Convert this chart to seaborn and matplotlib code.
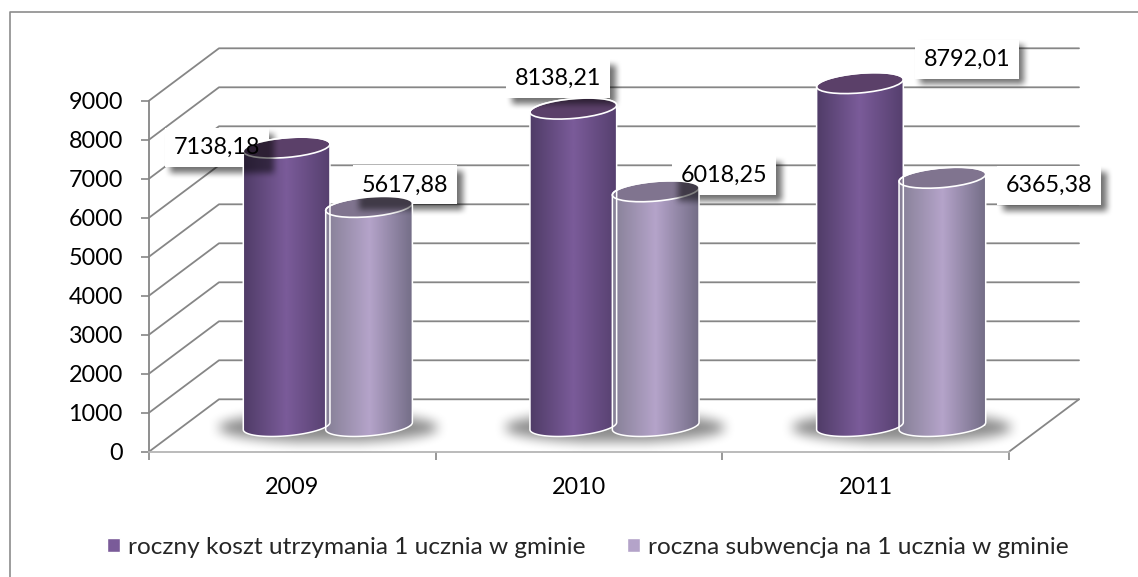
import numpy as np
import pandas as pd
import seaborn as sns
import matplotlib.pyplot as plt
from matplotlib.lines import Line2D
from matplotlib.patches import Ellipse, Polygon, Rectangle

# dane z wykresu
lata = ['2009', '2010', '2011']
koszt = [7138.18, 8138.21, 8792.01]
subwencja = [5617.88, 6018.25, 6365.38]
seria_koszt = 'roczny koszt utrzymania 1 ucznia w gminie'
seria_subwencja = 'roczna subwencja na 1 ucznia w gminie'
os_y = [0, 1000, 2000, 3000, 4000, 5000, 6000, 7000, 8000, 9000]

# przesuniecie etykiet wzgledem wierzcholka slupka (piksele)
przes_koszt = [(-70, 0), (-15, -30), (107, -24)]
przes_subwencja = [(36, -22), (68.5, -15.5), (107, 8)]

W, H = 1138, 577
szary = '#868686'
kolor_koszt = ['#4f3b66', '#7a5b99', '#553f6e', '#5b4069']
kolor_subw = ['#857f95', '#b4a3c9', '#726c85', '#80748f']
rozmiar = 16.8

df = pd.DataFrame({
    'rok': lata * 2,
    'wartosc': koszt + subwencja,
    'seria': [seria_koszt] * 3 + [seria_subwencja] * 3,
})

sns.set_theme(style='white')
plt.rcParams['font.family'] = ['Lato', 'DejaVu Sans']
fig = plt.figure(figsize=(W / 100, H / 100), dpi=100, facecolor='white')


def os_pikselowa(z):
    a = fig.add_axes([0, 0, 1, 1], zorder=z)
    a.set_xlim(0, W)
    a.set_ylim(H, 0)
    a.axis('off')
    return a


tyl = os_pikselowa(0)
przod = os_pikselowa(3)

# os przednia (skala i podzialki)
ax = fig.add_axes([149 / W, (H - 451.7) / H, 860 / W, 351 / H], zorder=1)
ax.patch.set_visible(False)
ax.set_xlim(-0.5, 2.5)
ax.set_ylim(0, 9000)
ax.set_yticks(os_y)
ax.set_xticks([-0.5, 0.5, 1.5, 2.5])
ax.set_xticklabels([])
ax.set_xticks([0, 1, 2], minor=True)
ax.set_xticklabels(lata, minor=True)
ax.tick_params(axis='both', which='major', length=5.8, width=1.2, color=szary, labelsize=rozmiar,
               labelcolor='black', left=True, bottom=True)
ax.tick_params(axis='y', pad=13)
ax.tick_params(axis='x', which='minor', length=0, pad=18, labelsize=rozmiar, labelcolor='black')
sns.despine(ax=ax)
ax.spines['left'].set_color(szary)
ax.spines['left'].set_linewidth(1.3)
ax.spines['bottom'].set_color('#b5b5b5')
ax.spines['bottom'].set_linewidth(1.3)

# slupki na podlodze wykresu - ta sama skala, os przesunieta w glab
ax2 = fig.add_axes([(149 + 35.5) / W, (H - 426) / H, 860 / W, 351 / H], zorder=2)
ax2.patch.set_visible(False)
sns.barplot(data=df, x='rok', y='wartosc', hue='seria', width=0.575, gap=0,
            palette=[kolor_koszt[1], kolor_subw[1]], saturation=1, ax=ax2)
ax2.set_xlim(-0.5, 2.5)
ax2.set_ylim(0, 9000)
ax2.axis('off')
uchwyty, opisy = ax2.get_legend_handles_labels()
ax2.get_legend().remove()
fig.legend(uchwyty, opisy, ncols=2, frameon=False, loc='center', bbox_to_anchor=(588 / W, (H - 547) / H),
           fontsize=17.6, handlelength=0.53, handleheight=0.53, handletextpad=0.33, columnspacing=1.68)


def px(a, x, y):
    d = a.transData.transform((x, y))
    return d[0], H - d[1]


# sciany i siatka
gleb_x, gleb_y = 70, -52.4
for v in os_y:
    x0, y0 = px(ax, -0.5, v)
    x2, _ = px(ax, 2.5, v)
    tyl.plot([x0, x0 + gleb_x, x2 + gleb_x], [y0, y0 + gleb_y, y0 + gleb_y], color=szary, lw=1.3)
x0, y0 = px(ax, 2.5, 0)
tyl.plot([x0, x0 + gleb_x], [y0, y0 + gleb_y], color=szary, lw=1.3)


def rozmyj(m, r):
    k = np.hanning(2 * r + 3)
    k = k / k.sum()
    m = np.apply_along_axis(lambda s: np.convolve(s, k, mode='same'), 0, m)
    m = np.apply_along_axis(lambda s: np.convolve(s, k, mode='same'), 1, m)
    return m


def warstwa(m, alfa):
    img = np.zeros((H, W, 4))
    img[..., 3] = m * alfa
    return img


yy, xx = np.mgrid[0:H, 0:W]

# cien pod slupkami
podloga = np.zeros((H, W))
for g in range(3):
    xs, ys = px(ax2, g, 0)
    podloga[((xx - xs) / 110) ** 2 + ((yy - ys - 1) / 15) ** 2 <= 1] = 1
tyl.imshow(warstwa(rozmyj(podloga, 14), 0.45), extent=(0, W, H, 0), aspect='auto', zorder=2)

# etykiety - ramki z cieniem
wartosci = koszt + subwencja
przes = przes_koszt + przes_subwencja
slupki = list(ax2.containers[0]) + list(ax2.containers[1])
etykiety = []
cienie = np.zeros((H, W))
for p, v, (dx, dy) in zip(slupki, wartosci, przes):
    xs, ys = px(ax2, p.get_x() + p.get_width() / 2, v)
    xc, yc = xs + dx, ys + dy
    etykiety.append((xc, yc, f'{v:.2f}'.replace('.', ',')))
    tyl.add_patch(Rectangle((xc - 52, yc - 19.5), 104, 39, fc='white', ec='none', zorder=4))
    cienie[(xx >= xc - 52 + 5) & (xx <= xc + 52 + 5) & (yy >= yc - 19.5 + 5) & (yy <= yc + 19.5 + 5)] = 1
cienie = rozmyj(cienie, 7)
tyl.imshow(warstwa(cienie, 0.55), extent=(0, W, H, 0), aspect='auto', zorder=3)
tyl.set_xlim(0, W)
tyl.set_ylim(H, 0)

# walce zamiast plaskich slupkow
kat = np.deg2rad(5)
b = 9.8


def elipsa(xc, yc, a, t):
    return (xc + a * np.cos(t) * np.cos(kat) + b * np.sin(t) * np.sin(kat),
            yc - a * np.cos(t) * np.sin(kat) + b * np.sin(t) * np.cos(kat))


for p, kol in zip(slupki, [kolor_koszt] * 3 + [kolor_subw] * 3):
    xs = p.get_x() + p.get_width() / 2
    xc, y_dol = px(ax2, xs, 0)
    _, y_gora = px(ax2, xs, p.get_height())
    a = 43.5
    t0 = np.arctan2(b * np.sin(kat), a * np.cos(kat))
    gorny = np.linspace(t0 + np.pi, t0 + 2 * np.pi, 60)
    dolny = np.linspace(t0, t0 + np.pi, 60)
    gx, gy = elipsa(xc, y_gora, a, gorny)
    dx_, dy_ = elipsa(xc, y_dol, a, dolny)
    obrys = np.column_stack([np.r_[gx, dx_], np.r_[gy, dy_]])
    ksztalt = Polygon(obrys, closed=True, fc='none', ec='white', lw=1.1, zorder=6)
    przod.add_patch(ksztalt)
    # gradient boku
    barwy = np.array(sns.blend_palette([kol[0], kol[1]], 45) + sns.blend_palette([kol[1], kol[2]], 45))
    pasy = barwy[None, :, :]
    im = przod.imshow(pasy, extent=(xc - a - 1, xc + a + 1, y_dol + 14, y_gora - 14), aspect='auto',
                      zorder=5, interpolation='bilinear')
    im.set_clip_path(ksztalt)
    cien_img = przod.imshow(warstwa(cienie, 0.5), extent=(0, W, H, 0), aspect='auto', zorder=5.2)
    cien_img.set_clip_path(ksztalt)
    # gorna podstawa
    gora = Ellipse((xc, y_gora), 2 * a, 2 * b, angle=-5, fc=kol[3], ec='white', lw=1.2, zorder=5.1)
    przod.add_patch(gora)
przod.set_xlim(0, W)
przod.set_ylim(H, 0)

for xc, yc, s in etykiety:
    przod.text(xc, yc, s, ha='center', va='center', fontsize=rozmiar, color='black', zorder=8)

# ramka wykresu - widoczna tylko u gory i z lewej
fig.add_artist(Line2D([9.5 / W, 9.5 / W, 1], [0, (H - 11.5) / H, (H - 11.5) / H],
                      color='#8c8c8c', lw=1.2))

fig.savefig('out.png', dpi=100)
